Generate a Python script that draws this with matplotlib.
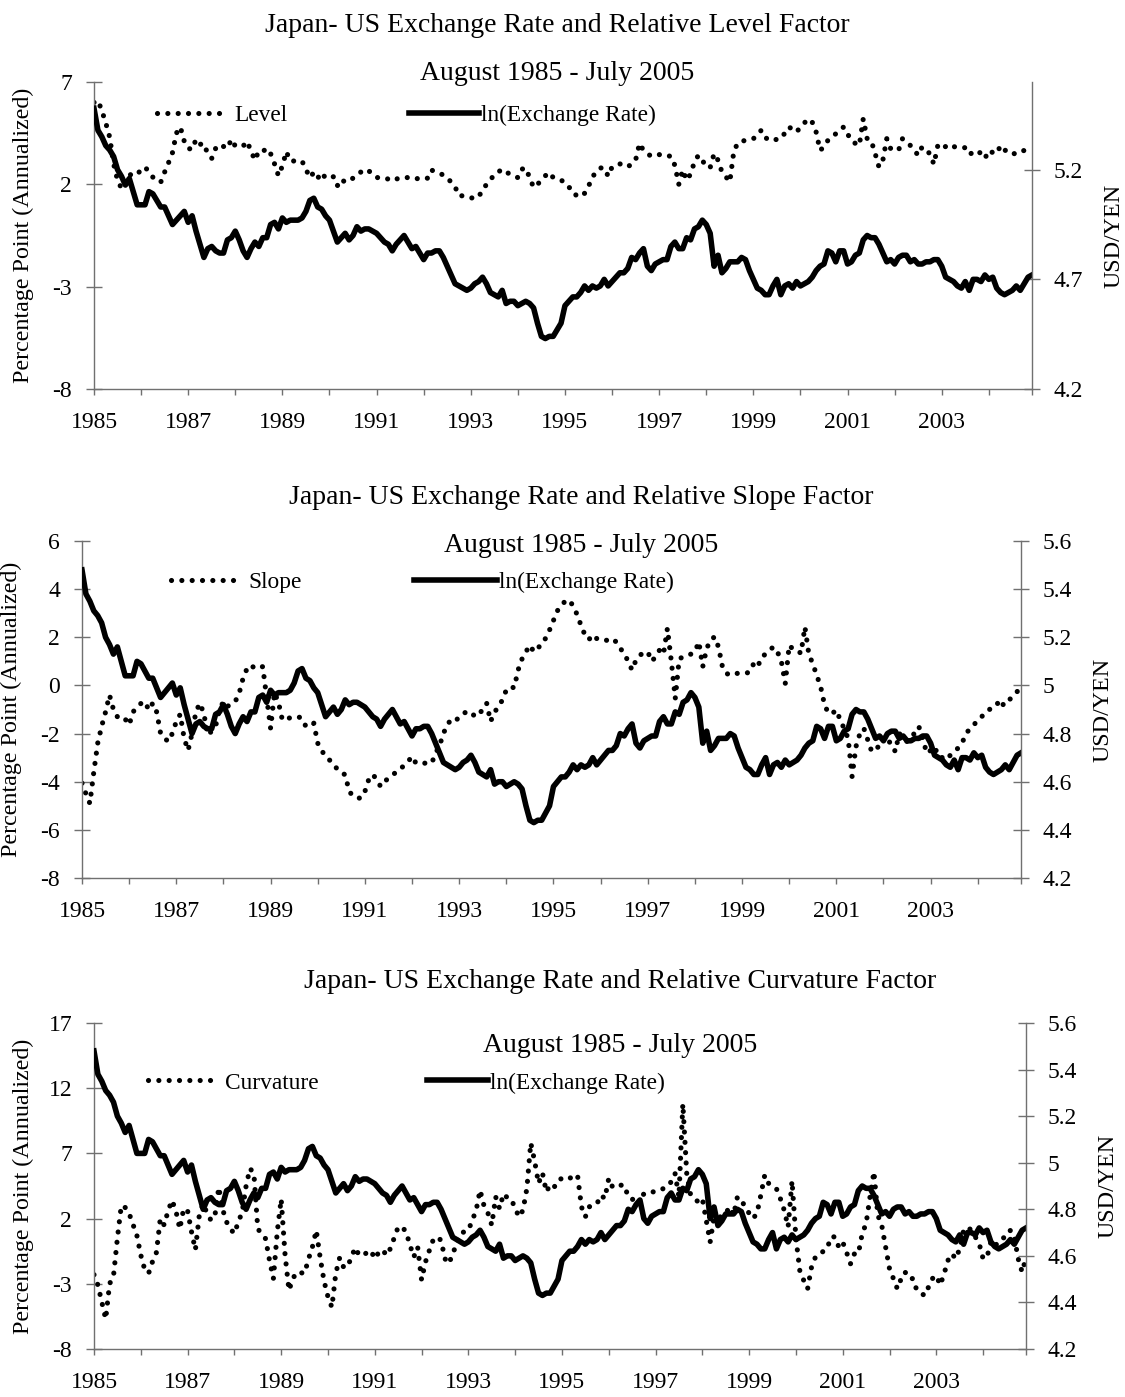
import matplotlib
matplotlib.use('Agg')
import matplotlib.pyplot as plt

plt.rcParams['font.family'] = ['Liberation Serif', 'DejaVu Serif']
plt.rcParams['axes.unicode_minus'] = False

# monthly observations, August 1985 (index 0) to July 2005 (index 239)
months = list(range(240))
year_ticks = list(range(0, 240, 12)) + [239]
year_label_pos = list(range(0, 217, 24))
year_labels = ['1985', '1987', '1989', '1991', '1993', '1995', '1997', '1999', '2001', '2003']

ln_fx = [
    5.48, 5.38, 5.35, 5.31, 5.29, 5.26, 5.20, 5.17, 5.13, 5.16, 5.10, 5.04,
    5.04, 5.04, 5.10, 5.09, 5.06, 5.03, 5.03, 4.99, 4.95, 4.97, 4.99, 5.01,
    4.96, 4.99, 4.92, 4.86, 4.80, 4.84, 4.85, 4.83, 4.82, 4.82, 4.88, 4.89,
    4.92, 4.88, 4.83, 4.80, 4.84, 4.87, 4.85, 4.89, 4.89, 4.95, 4.96, 4.93,
    4.98, 4.96, 4.97, 4.97, 4.97, 4.98, 5.01, 5.06, 5.07, 5.03, 5.02, 4.99,
    4.97, 4.92, 4.87, 4.89, 4.91, 4.88, 4.90, 4.94, 4.92, 4.93, 4.93, 4.92,
    4.91, 4.89, 4.87, 4.86, 4.83, 4.86, 4.88, 4.90, 4.87, 4.84, 4.85, 4.82,
    4.79, 4.82, 4.82, 4.83, 4.83, 4.80, 4.76, 4.72, 4.68, 4.67, 4.66, 4.65,
    4.66, 4.68, 4.69, 4.71, 4.68, 4.64, 4.63, 4.62, 4.65, 4.59, 4.60, 4.60,
    4.58, 4.59, 4.60, 4.59, 4.57, 4.50, 4.44, 4.43, 4.44, 4.44, 4.47, 4.50,
    4.58, 4.60, 4.62, 4.62, 4.64, 4.67, 4.65, 4.67, 4.66, 4.67, 4.70, 4.67,
    4.69, 4.71, 4.73, 4.73, 4.75, 4.80, 4.79, 4.82, 4.84, 4.76, 4.74, 4.77,
    4.78, 4.79, 4.79, 4.85, 4.87, 4.84, 4.84, 4.89, 4.88, 4.93, 4.94, 4.97,
    4.95, 4.91, 4.76, 4.81, 4.73, 4.75, 4.78, 4.78, 4.78, 4.80, 4.79, 4.74,
    4.70, 4.66, 4.65, 4.63, 4.63, 4.67, 4.70, 4.63, 4.67, 4.68, 4.66, 4.69,
    4.67, 4.68, 4.69, 4.71, 4.74, 4.76, 4.77, 4.83, 4.82, 4.78, 4.83, 4.83,
    4.77, 4.78, 4.81, 4.82, 4.88, 4.90, 4.89, 4.89, 4.86, 4.82, 4.78, 4.79,
    4.77, 4.80, 4.81, 4.81, 4.78, 4.79, 4.77, 4.77, 4.78, 4.78, 4.79, 4.79,
    4.76, 4.71, 4.70, 4.69, 4.67, 4.66, 4.69, 4.65, 4.70, 4.70, 4.69, 4.72,
    4.70, 4.71, 4.66, 4.64, 4.63, 4.64, 4.65, 4.67, 4.65, 4.68, 4.71, 4.72,
]

level = [
    6.0, 6.1, 5.6, 5.0, 4.3, 3.0, 2.2, 1.8, 2.2, 2.5, 2.4, 2.5,
    2.7, 2.85, 2.6, 2.35, 2.25, 2.1, 2.6, 3.06, 3.55, 4.5, 4.8, 4.1,
    3.76, 3.7, 4.2, 3.95, 4.0, 3.47, 3.27, 3.76, 3.95, 3.85, 3.76, 4.2,
    3.87, 3.9, 3.87, 4.1, 3.63, 3.18, 3.63, 3.6, 3.76, 3.5, 3.0, 2.42,
    2.9, 3.6, 3.14, 3.14, 3.14, 3.14, 2.74, 2.33, 2.58, 2.3, 2.58, 2.3,
    2.37, 2.37, 1.93, 2.25, 2.1, 2.2, 2.3, 2.5, 2.6, 2.74, 2.66, 2.5,
    2.33, 2.33, 2.33, 2.25, 2.17, 2.25, 2.33, 2.33, 2.33, 2.3, 2.25, 2.33,
    2.3, 2.3, 2.7, 2.6, 2.55, 2.45, 2.33, 2.1, 1.88, 1.44, 1.44, 1.4,
    1.33, 1.35, 1.36, 1.77, 1.98, 2.2, 2.5, 2.6, 2.74, 2.6, 2.5, 2.4,
    2.33, 2.74, 2.8, 2.33, 1.85, 2.0, 2.2, 2.42, 2.58, 2.33, 2.25, 2.2,
    2.1, 1.85, 1.77, 1.4, 1.5, 1.56, 1.9, 2.37, 2.6, 2.8, 2.8, 2.4,
    2.85, 2.9, 3.0, 2.9, 2.85, 3.0, 3.18, 4.0, 3.66, 3.5, 3.37, 3.4,
    3.45, 3.47, 3.4, 3.37, 2.93, 2.0, 2.7, 2.2, 2.5, 3.1, 3.42, 3.18,
    2.85, 2.82, 3.5, 3.18, 2.6, 2.37, 2.12, 3.58, 4.02, 4.1, 4.15, 4.2,
    4.23, 4.4, 4.64, 4.3, 4.15, 4.15, 4.2, 4.23, 4.5, 4.8, 4.7, 4.55,
    4.8, 5.0, 5.2, 5.04, 4.55, 3.66, 3.83, 4.15, 4.3, 4.47, 4.65, 4.8,
    4.47, 4.12, 4.0, 3.9, 5.2, 4.23, 4.15, 3.53, 2.85, 3.18, 4.23, 3.74,
    3.7, 3.66, 4.23, 4.07, 3.9, 3.66, 3.42, 3.83, 3.65, 3.5, 2.98, 3.9,
    3.74, 3.85, 3.96, 3.85, 3.79, 3.79, 3.79, 3.47, 3.55, 3.66, 3.5, 3.26,
    3.66, 3.55, 3.5, 3.9, 3.7, 3.5, 3.5, 3.5, 3.63, 3.65, 3.7, 3.74,
]

slope = [
    -4.06, -4.5, -4.9, -3.6, -2.4, -1.7, -1.1, -0.4, -1.0, -1.3, -1.44, -1.4,
    -1.64, -1.1, -0.9, -0.75, -0.67, -1.02, -0.74, -1.1, -1.99, -2.2, -2.33, -1.99,
    -1.5, -1.2, -2.2, -2.7, -2.0, -1.09, -0.74, -1.16, -2.06, -1.9, -1.7, -1.0,
    -0.67, -0.88, -0.75, -0.67, -0.33, 0.3, 0.7, 0.85, 0.7, 0.75, 0.78, -0.5,
    -1.78, -0.3, -0.7, -1.44, -1.37, -1.35, -1.3, -1.3, -1.37, -1.71, -1.6, -1.57,
    -2.4, -2.7, -2.96, -3.1, -3.23, -3.5, -3.6, -3.72, -4.4, -4.6, -4.68, -4.68,
    -4.41, -3.9, -3.7, -3.9, -4.2, -4.0, -3.85, -3.72, -3.6, -3.5, -3.3, -3.16,
    -2.95, -3.23, -3.23, -3.23, -3.23, -3.23, -2.82, -2.5, -2.0, -1.6, -1.44, -1.5,
    -1.3, -1.16, -1.1, -1.09, -1.3, -1.2, -1.0, -0.74, -1.5, -1.1, -0.9, -0.6,
    -0.19, -0.05, -0.1, 0.64, 1.1, 1.4, 1.67, 1.4, 1.5, 1.81, 1.95, 2.3,
    2.7, 3.1, 3.33, 3.5, 3.55, 3.3, 2.95, 2.5, 2.1, 1.9, 2.1, 1.95,
    1.9, 1.85, 1.9, 1.95, 1.8, 1.54, 1.33, 1.0, 0.64, 1.05, 1.26, 1.35,
    1.4, 1.0, 1.19, 1.47, 1.3, 2.37, 1.0, -0.54, 1.1, 1.19, 1.26, 1.3,
    1.4, 1.81, 0.78, 1.54, 1.88, 2.02, 1.6, 0.78, 0.5, 0.43, 0.5, 0.5,
    0.5, 0.5, 0.57, 0.92, 0.78, 1.19, 1.3, 1.47, 1.6, 1.4, 1.0, 0.08,
    1.67, 1.5, 1.47, 1.33, 2.43, 1.3, 0.9, 0.43, -0.05, -0.81, -1.16, -1.16,
    -1.02, -1.44, -1.8, -2.2, -3.78, -2.54, -2.0, -1.78, -2.26, -2.75, -2.6, -2.54,
    -2.13, -2.3, -2.4, -2.75, -1.99, -2.2, -2.33, -2.1, -1.99, -1.71, -2.2, -2.82,
    -2.7, -2.54, -2.96, -3.0, -3.09, -2.9, -2.75, -2.6, -2.4, -2.0, -1.8, -1.64,
    -1.44, -1.3, -1.1, -1.0, -0.81, -0.74, -0.95, -0.6, -0.6, -0.45, -0.26, -0.1,
]

curvature = [
    -2.3, -3.1, -4.4, -5.7, -3.0, -2.4, 0.5, 3.0, 2.85, 2.4, 1.56, 0.7,
    -0.8, -1.9, -2.2, -1.3, -0.6, 2.0, 1.5, 2.6, 3.4, 2.6, 1.2, 2.77,
    2.6, 1.0, -0.4, 2.26, 3.15, 2.4, 1.87, 2.2, 4.4, 2.7, 1.74, 1.2,
    0.85, 1.74, 2.5, 4.5, 5.85, 5.46, 1.23, 0.8, 0.46, -1.2, -2.6, 1.0,
    3.5, -0.8, -3.5, -2.6, -2.1, -2.15, -2.2, -1.1, -0.18, 1.1, -1.0, -2.8,
    -4.0, -4.8, -2.2, -1.0, -1.72, -1.72, -0.95, -0.23, -0.82, -0.82, -0.6, -0.44,
    -1.08, -0.6, -0.38, -0.82, -0.3, 0.54, 1.36, 1.36, 1.0, 0.0, -0.95, -0.18,
    -2.7, -1.33, -0.44, 0.38, 0.6, 0.33, -1.08, -1.46, -0.7, 0.08, 0.85, 1.0,
    1.1, 1.87, 2.64, 4.18, 3.0, 2.44, 1.5, 3.67, 2.77, 3.9, 3.6, 3.5,
    2.77, 2.13, 2.64, 4.3, 7.8, 6.4, 4.7, 5.5, 4.05, 4.6, 4.4, 4.95,
    5.08, 5.2, 5.08, 5.33, 5.33, 2.9, 2.13, 2.9, 3.1, 3.15, 3.8, 3.54,
    5.08, 4.4, 4.56, 4.56, 4.56, 3.67, 3.54, 3.0, 3.4, 3.9, 4.05, 4.05,
    4.05, 4.18, 4.3, 4.44, 4.82, 5.46, 3.67, 10.8, 5.46, 3.8, 3.5, 3.28,
    3.54, 1.87, 0.2, 2.13, 2.13, 2.13, 2.4, 2.9, 2.26, 3.67, 3.4, 2.9,
    2.4, 2.0, 2.4, 3.8, 5.33, 4.7, 4.5, 4.3, 3.54, 2.64, 1.36, 4.9,
    0.5, -2.0, -2.74, -3.38, -1.72, -0.95, -0.82, -0.5, -0.3, 0.6, 0.6, -0.18,
    0.2, -0.6, -1.46, -0.7, -0.7, 0.85, 1.62, 3.67, 5.6, 2.26, 1.5, -0.18,
    -1.85, -2.6, -3.38, -2.6, -2.1, -2.6, -2.6, -3.5, -3.7, -3.9, -3.26, -2.6,
    -2.36, -3.1, -2.23, -1.2, -0.7, -1.08, -0.3, 1.1, 1.36, 1.1, 0.6, 0.08,
    -1.08, -0.95, 0.2, -0.18, 0.33, 0.5, 0.6, 1.1, 0.6, -1.08, -2.1, -1.0,
]

W, H = 1125, 1397
fig = plt.figure(figsize=(W / 100, H / 100), dpi=100)
grey = '#707070'
dots = (0, (0.01, 2.0))


def panel(box, factor, name, title, title_y, sub_x, sub_y, left_ticks,
          right_ticks, leg_dot, leg_line, leg_y, solid_len):
    left, top, right, bottom = box
    ax = fig.add_axes([left / W, 1 - bottom / H, (right - left) / W, (bottom - top) / H])
    ax2 = ax.twinx()
    ax.patch.set_visible(False)

    d, = ax.plot(months, factor, color='black', lw=3.7, linestyle=dots,
                 dash_capstyle='round')
    s, = ax2.plot(months, ln_fx, color='black', lw=4.0, solid_joinstyle='round')

    ax.set_xlim(0, 239)
    ax.set_ylim(left_ticks[0], left_ticks[-1])
    ax.set_yticks(left_ticks)
    ax.set_yticklabels([str(t) for t in left_ticks])
    ax2.set_ylim(4.2, 5.6)
    ax2.set_yticks(right_ticks)
    ax2.set_yticklabels(['%g' % t for t in right_ticks])

    ax.set_xticks(year_ticks)
    ax.set_xticklabels([year_labels[year_label_pos.index(t)] if t in year_label_pos else ''
                        for t in year_ticks])

    for a in (ax, ax2):
        for sp in a.spines.values():
            sp.set_color(grey)
            sp.set_linewidth(1.0)
        a.spines['top'].set_visible(False)
    ax.spines['right'].set_visible(False)
    ax2.spines['left'].set_visible(False)
    ax2.spines['bottom'].set_visible(False)

    ax.tick_params(axis='y', direction='inout', length=11.5, width=1.0, color=grey,
                   pad=10, labelsize=17)
    ax.tick_params(axis='x', direction='out', length=4.3, width=1.0, color=grey,
                   pad=12.5, labelsize=17)
    ax2.tick_params(axis='y', direction='inout', length=11.5, width=1.0, color=grey,
                    pad=10, labelsize=17)

    w = right - left
    h = bottom - top
    ly = 1 - (leg_y - top) / h
    l1 = ax2.legend([d], [name], loc='center left',
                    bbox_to_anchor=((leg_dot - left) / w, ly), frameon=False,
                    fontsize=16.8, handlelength=2.9, handletextpad=0.4,
                    borderpad=0, borderaxespad=0)
    ax2.add_artist(l1)
    ax2.legend([s], ['ln(Exchange Rate)'], loc='center left',
               bbox_to_anchor=((leg_line - left) / w, ly), frameon=False,
               fontsize=16.8, handlelength=solid_len, handletextpad=0.1,
               borderpad=0, borderaxespad=0)

    fig.text(sub_x / W, 1 - title_y / H, title, ha='center', va='center', fontsize=20)
    fig.text(sub_x / W, 1 - sub_y / H, 'August 1985 - July 2005', ha='center',
             va='center', fontsize=20)
    fig.text((left - 71) / W, 1 - (top + bottom) / 2 / H, 'Percentage Point (Annualized)',
             rotation=90, ha='center', va='center', fontsize=17.3)
    fig.text((right + 82) / W, 1 - (top + bottom) / 2 / H, 'USD/YEN',
             rotation=90, ha='center', va='center', fontsize=17.3)


panel((94, 82, 1032, 389), level, 'Level',
      'Japan- US Exchange Rate and Relative Level Factor', 25, 557, 74,
      [-8, -3, 2, 7], [4.2, 4.7, 5.2], 157, 409, 115, 3.0)
panel((82, 541, 1021, 878), slope, 'Slope',
      'Japan- US Exchange Rate and Relative Slope Factor', 497, 581, 545,
      [-8, -6, -4, -2, 0, 2, 4, 6], [4.2, 4.4, 4.6, 4.8, 5.0, 5.2, 5.4, 5.6],
      171, 414, 582, 3.55)
panel((94, 1023, 1026, 1349), curvature, 'Curvature',
      'Japan- US Exchange Rate and Relative Curvature Factor', 982, 620, 1045,
      [-8, -3, 2, 7, 12, 17], [4.2, 4.4, 4.6, 4.8, 5.0, 5.2, 5.4, 5.6],
      148, 427, 1083, 2.6)

fig.savefig('out.png', dpi=100)
